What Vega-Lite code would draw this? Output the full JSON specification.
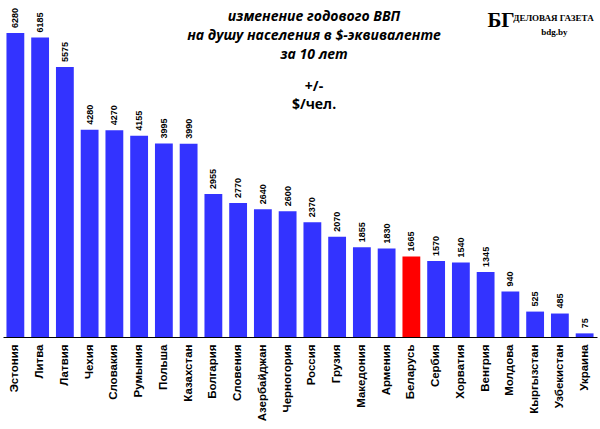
{
  "$schema": "https://vega.github.io/schema/vega-lite/v6.json",
  "width": 594,
  "height": 330,
  "autosize": "none",
  "padding": {"left": 3, "top": 7, "right": 3, "bottom": 92},
  "background": "white",
  "config": {"view": {"stroke": null}},
  "title": {
    "text": ["изменение  годового  ВВП", "на душу населения в $-эквиваленте", "за 10 лет"],
    "subtitle": ["+/-", "$/чел."],
    "font": "Open Sans",
    "fontSize": 14,
    "fontStyle": "italic",
    "fontWeight": "bold",
    "lineHeight": 19,
    "subtitleFont": "Open Sans",
    "subtitleFontSize": 14,
    "subtitleFontWeight": "bold",
    "subtitleLineHeight": 18,
    "subtitlePadding": 18,
    "subtitleColor": "#000000",
    "color": "#000000",
    "anchor": "middle",
    "dx": 14,
    "offset": -105
  },
  "data": {
    "values": [
      {"country": "Эстония", "value": 6280},
      {"country": "Литва", "value": 6185},
      {"country": "Латвия", "value": 5575},
      {"country": "Чехия", "value": 4280},
      {"country": "Словакия", "value": 4270},
      {"country": "Румыния", "value": 4155},
      {"country": "Польша", "value": 3995},
      {"country": "Казахстан", "value": 3990},
      {"country": "Болгария", "value": 2955},
      {"country": "Словения", "value": 2770},
      {"country": "Азербайджан", "value": 2640},
      {"country": "Черногория", "value": 2600},
      {"country": "Россия", "value": 2370},
      {"country": "Грузия", "value": 2070},
      {"country": "Македония", "value": 1855},
      {"country": "Армения", "value": 1830},
      {"country": "Беларусь", "value": 1665},
      {"country": "Сербия", "value": 1570},
      {"country": "Хорватия", "value": 1540},
      {"country": "Венгрия", "value": 1345},
      {"country": "Молдова", "value": 940},
      {"country": "Кыргызстан", "value": 525},
      {"country": "Узбекистан", "value": 485},
      {"country": "Украина", "value": 75}
    ]
  },
  "encoding": {
    "x": {
      "field": "country",
      "type": "nominal",
      "sort": null,
      "title": null,
      "scale": {"paddingInner": 0.28, "paddingOuter": 0.14},
      "axis": {
        "labelAngle": -90,
        "labelFont": "Liberation Sans",
        "labelFontSize": 11.5,
        "labelFontWeight": "bold",
        "labelColor": "#000000",
        "labelPadding": 7,
        "ticks": false,
        "domainColor": "#000000",
        "domainWidth": 1
      }
    },
    "y": {
      "field": "value",
      "type": "quantitative",
      "scale": {"domain": [0, 6817], "nice": false},
      "axis": null
    }
  },
  "layer": [
    {
      "mark": {"type": "bar"},
      "encoding": {
        "color": {
          "condition": {"test": "datum.country === 'Беларусь'", "value": "#ff0000"},
          "value": "#3333ff"
        }
      }
    },
    {
      "mark": {
        "type": "text",
        "angle": 270,
        "align": "left",
        "baseline": "middle",
        "dx": 5,
        "font": "Liberation Sans",
        "fontSize": 9,
        "fontWeight": "bold",
        "color": "#000000"
      },
      "encoding": {"text": {"field": "value", "type": "quantitative"}}
    },
    {
      "transform": [{"filter": "datum.country === 'Украина'"}],
      "mark": {
        "type": "text",
        "align": "right",
        "baseline": "middle",
        "dx": 9,
        "font": "Liberation Serif",
        "fontSize": 9,
        "fontWeight": "bold",
        "color": "#000000"
      },
      "encoding": {
        "y": {"datum": 6580},
        "text": {"value": "ДЕЛОВАЯ ГАЗЕТА"}
      }
    },
    {
      "transform": [{"filter": "datum.country === 'Украина'"}],
      "mark": {
        "type": "text",
        "align": "right",
        "baseline": "middle",
        "dx": -70,
        "font": "Liberation Serif",
        "fontSize": 21,
        "fontWeight": "bold",
        "color": "#000000"
      },
      "encoding": {
        "y": {"datum": 6530},
        "text": {"value": "БГ"}
      }
    },
    {
      "transform": [{"filter": "datum.country === 'Украина'"}],
      "mark": {
        "type": "text",
        "align": "right",
        "baseline": "middle",
        "dx": -17,
        "font": "Liberation Serif",
        "fontSize": 9,
        "fontWeight": "bold",
        "color": "#000000"
      },
      "encoding": {
        "y": {"datum": 6300},
        "text": {"value": "bdg.by"}
      }
    }
  ]
}
